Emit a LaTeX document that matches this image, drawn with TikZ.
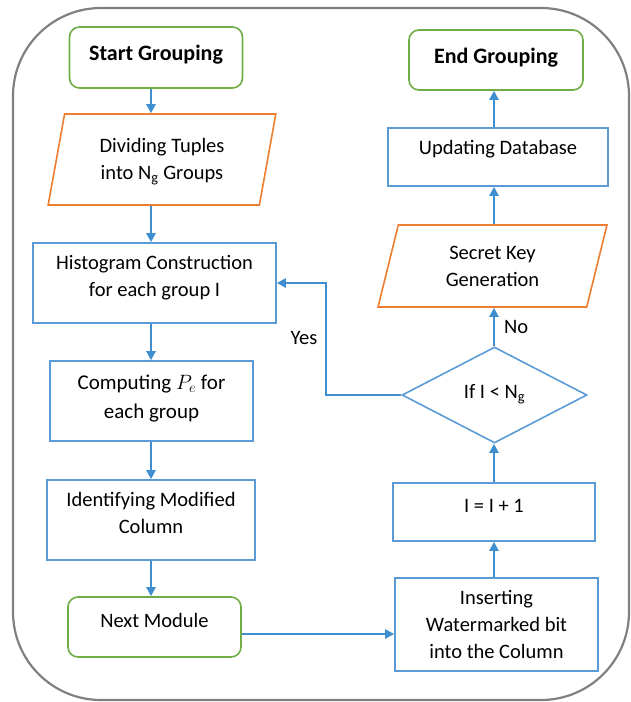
\documentclass[tikz,border=0pt]{standalone}
\usepackage{fontspec}
\setmainfont{Carlito}
\usetikzlibrary{shapes.geometric,arrows.meta}
\definecolor{boxblue}{RGB}{91,155,213}
\definecolor{arrowblue}{RGB}{62,142,208}
\definecolor{ocre}{RGB}{237,125,49}
\definecolor{leaf}{RGB}{112,173,71}
\definecolor{framegray}{RGB}{128,128,128}

\begin{document}
\begin{tikzpicture}[x=1pt,y=-1pt,
  every node/.style={font=\fontsize{20.5}{27}\selectfont, align=center, inner sep=0pt},
  process/.style={draw=boxblue, line width=1.6pt},
  terminal/.style={draw=leaf, line width=1.6pt, rounded corners=10pt},
  iobox/.style={draw=ocre, line width=1.6pt, trapezium, trapezium left angle=76, trapezium right angle=104, trapezium stretches=true},
  decision/.style={draw=boxblue, line width=1.6pt, diamond},
  flowarrow/.style={draw=arrowblue, line width=2.4pt, -{Triangle[length=9pt,width=9pt]}}]
\useasboundingbox (0,0) rectangle (630,702);
\draw [framegray, line width=2.2pt, rounded corners=88pt] (13,8) rectangle (629,700);

\node [terminal, minimum width=173pt, minimum height=61pt, text depth=10pt, font=\fontsize{22}{27}\selectfont\bfseries] (start) at (156,57.5) {Start Grouping};
\node [iobox, minimum width=228pt, minimum height=91pt, text depth=1pt] (divide) at (162,159.5) {Dividing Tuples\\into N\textsubscript{g} Groups};
\node [process, minimum width=243pt, minimum height=80pt, text depth=14pt] (hist) at (154.5,283) {Histogram Construction\\for each group I};
\node [process, minimum width=203pt, minimum height=80pt, text depth=8pt, font=\fontsize{21}{29}\selectfont] (comp) at (151.5,401) {Computing $P_e$ for\\each group};
\node [process, minimum width=208pt, minimum height=80pt, text depth=14pt] (ident) at (151,520) {Identifying Modified\\Column};
\node [terminal, minimum width=173pt, minimum height=60pt, text depth=13pt] (next) at (154.5,627) {Next Module};

\node [process, minimum width=203pt, minimum height=93pt] (insert) at (496.5,624.5) {Inserting\\Watermarked bit\\into the Column};
\node [process, minimum width=202pt, minimum height=58pt, text depth=13pt] (incr) at (494,512) {I = I + 1};
\node [decision, minimum width=185pt, minimum height=96pt, text depth=7pt] (test) at (494.5,395) {If I < N\textsubscript{g}};
\node [iobox, minimum width=229pt, minimum height=82pt, text depth=0pt] (key) at (492.5,266) {Secret Key\\Generation};
\node [process, minimum width=220pt, minimum height=58pt, text depth=19pt] (update) at (498,157) {Updating Database};
\node [terminal, minimum width=174pt, minimum height=60pt, text depth=9pt, font=\fontsize{22}{27}\selectfont\bfseries] (finish) at (496,60) {End Grouping};

\coordinate (lx) at (151,0);
\coordinate (rx) at (494,0);
\draw [flowarrow] (start.south -| lx) -- (divide.north -| lx);
\draw [flowarrow] (divide.south -| lx) -- (hist.north -| lx);
\draw [flowarrow] (hist.south -| lx) -- (comp.north -| lx);
\draw [flowarrow] (comp.south -| lx) -- (ident.north -| lx);
\draw [flowarrow] (ident.south -| lx) -- (next.north -| lx);
\draw [flowarrow] ([yshift=-7pt]next.east) -- ([yshift=-9.5pt]insert.west);
\draw [flowarrow] (insert.north -| rx) -- (incr.south -| rx);
\draw [flowarrow] (incr.north -| rx) -- (test.south -| rx);
\draw [flowarrow] (test.north -| rx) -- (key.south -| rx) node [midway, right=9pt] (no) {No};
\draw [flowarrow] (key.north -| rx) -- (update.south -| rx);
\draw [flowarrow] (update.north -| rx) -- (finish.south -| rx);
\draw [flowarrow] (test.west) -- ++(-75,0) |- (hist.east);
\node (yes) at (304,338) {Yes};
\end{tikzpicture}
\end{document}
